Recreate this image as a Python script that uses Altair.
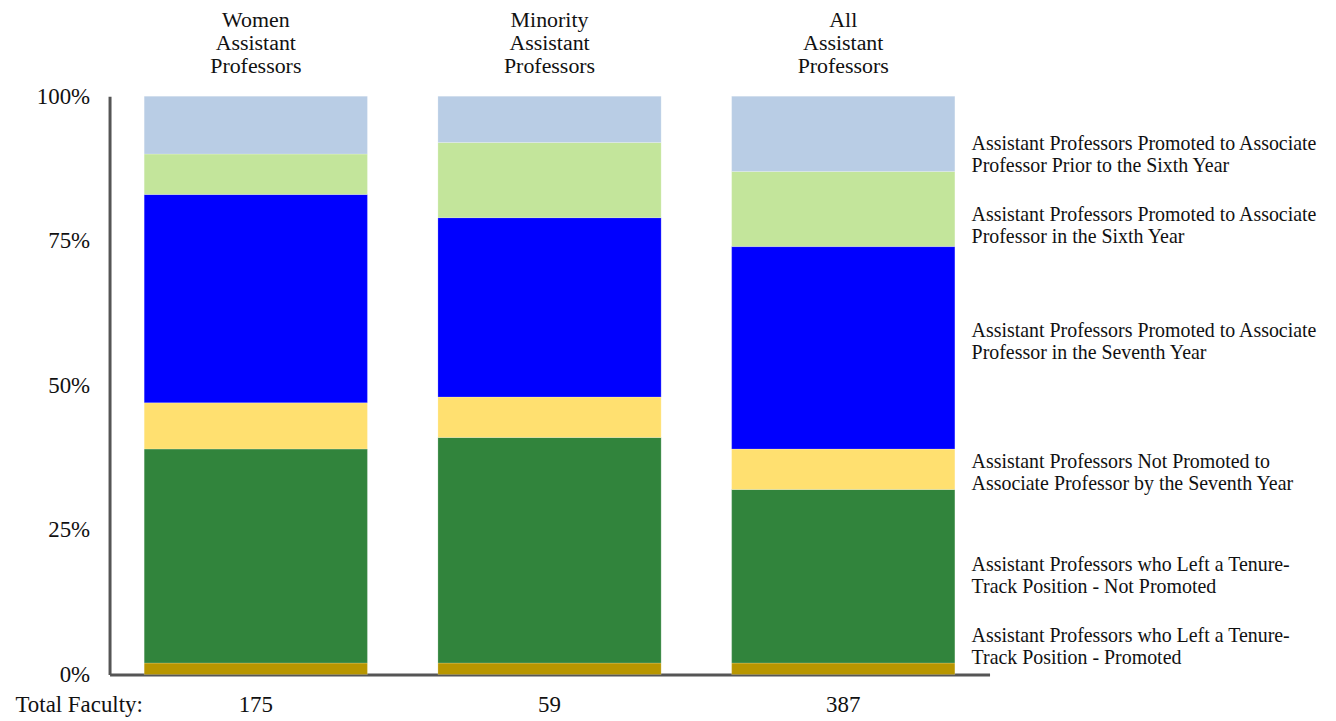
import altair as alt
import pandas as pd

# ---- data ----
groups = ["Women Assistant Professors", "Minority Assistant Professors", "All Assistant Professors"]
total_faculty = [175, 59, 387]

# stack order: bottom -> top
categories = [
    "Assistant Professors who Left a Tenure-\nTrack Position - Promoted",
    "Assistant Professors who Left a Tenure-\nTrack Position - Not Promoted",
    "Assistant Professors Not Promoted to\nAssociate Professor by the Seventh Year",
    "Assistant Professors Promoted to Associate\nProfessor in the Seventh Year",
    "Assistant Professors Promoted to Associate\nProfessor in the Sixth Year",
    "Assistant Professors Promoted to Associate\nProfessor Prior to the Sixth Year",
]
women_pct = [2, 37, 8, 36, 7, 10]
minority_pct = [2, 39, 7, 31, 13, 8]
all_pct = [2, 30, 7, 35, 13, 13]

colors = ["#B89600", "#31843C", "#FFE070", "#0000FF", "#C3E59B", "#B9CDE5"]

# annotation anchors (percent) for the right-hand labels
label_anchor_pct = [4.8, 17.0, 34.8, 57.5, 77.5, 89.8]

# ---- tables ----
rows = []
for g, vals in zip(groups, [women_pct, minority_pct, all_pct]):
    for i, (c, v) in enumerate(zip(categories, vals)):
        rows.append({"group": g, "category": c, "idx": i, "pct": v})
df = pd.DataFrame(rows)

counts_df = pd.DataFrame({"group": groups, "count": total_faculty})
labels_df = pd.DataFrame({"category": categories, "y": label_anchor_pct})

FONT = "Liberation Serif"

count_expr = " : ".join(
    [f"datum.value == '{g}' ? '{c}'" for g, c in zip(groups, total_faculty)] + ["''"]
)

x_scale = alt.Scale(domain=groups, paddingInner=0.24, paddingOuter=0.118)
y_scale = alt.Scale(domain=[0, 100], nice=False)

bars = alt.Chart(df).mark_bar(stroke="white", strokeWidth=0.4, strokeOpacity=0.5).encode(
    x=alt.X("group:N", scale=x_scale, sort=groups,
            axis=alt.Axis(orient="top", title=None, domain=False, ticks=False,
                          labelAngle=0, labelExpr="split(datum.value, ' ')",
                          labelFont=FONT, labelFontSize=22, labelColor="#111",
                          labelLineHeight=23, labelPadding=65, labelBaseline="bottom")),
    y=alt.Y("pct:Q", stack="zero", scale=y_scale,
            axis=alt.Axis(title=None, values=[0, 25, 50, 75, 100], grid=False,
                          ticks=False, labelExpr="datum.value + '%'",
                          labelFont=FONT, labelFontSize=23, labelColor="#111",
                          labelPadding=20, domainColor="#555", domainWidth=3)),
    color=alt.Color("category:N", scale=alt.Scale(domain=categories, range=colors), legend=None),
    order=alt.Order("idx:Q", sort="ascending"),
)

bottom = alt.Chart(counts_df).mark_point(opacity=0).encode(
    x=alt.X("group:N", scale=x_scale, sort=groups,
            axis=alt.Axis(orient="bottom", title="Total Faculty:", ticks=False,
                          labelAngle=0, labelExpr=count_expr,
                          labelFont=FONT, labelFontSize=23, labelColor="#111",
                          labelPadding=19, labelBaseline="top",
                          domainColor="#555", domainWidth=3,
                          titleFont=FONT, titleFontSize=23, titleFontWeight="normal",
                          titleColor="#111", titleX=-95, titleY=19,
                          titleAlign="left", titleBaseline="top", titleAngle=0)),
    y=alt.value(0),
)

labels = alt.Chart(labels_df).mark_text(
    align="left", baseline="middle", font=FONT, fontSize=20, lineBreak="\n",
    lineHeight=22, color="#111", dy=-11
).encode(
    x=alt.value(866),
    y=alt.Y("y:Q", scale=y_scale),
    text="category:N",
)

chart = alt.layer(bars, bottom, labels).resolve_axis(x="independent").properties(
    width=884, height=581,
    autosize=alt.AutoSizeParams(type="none"),
    padding={"left": 102, "top": 87, "right": 340, "bottom": 44},
).configure_view(stroke=None)

chart.save("out.html", embed_options={"renderer": "svg", "actions": False})
